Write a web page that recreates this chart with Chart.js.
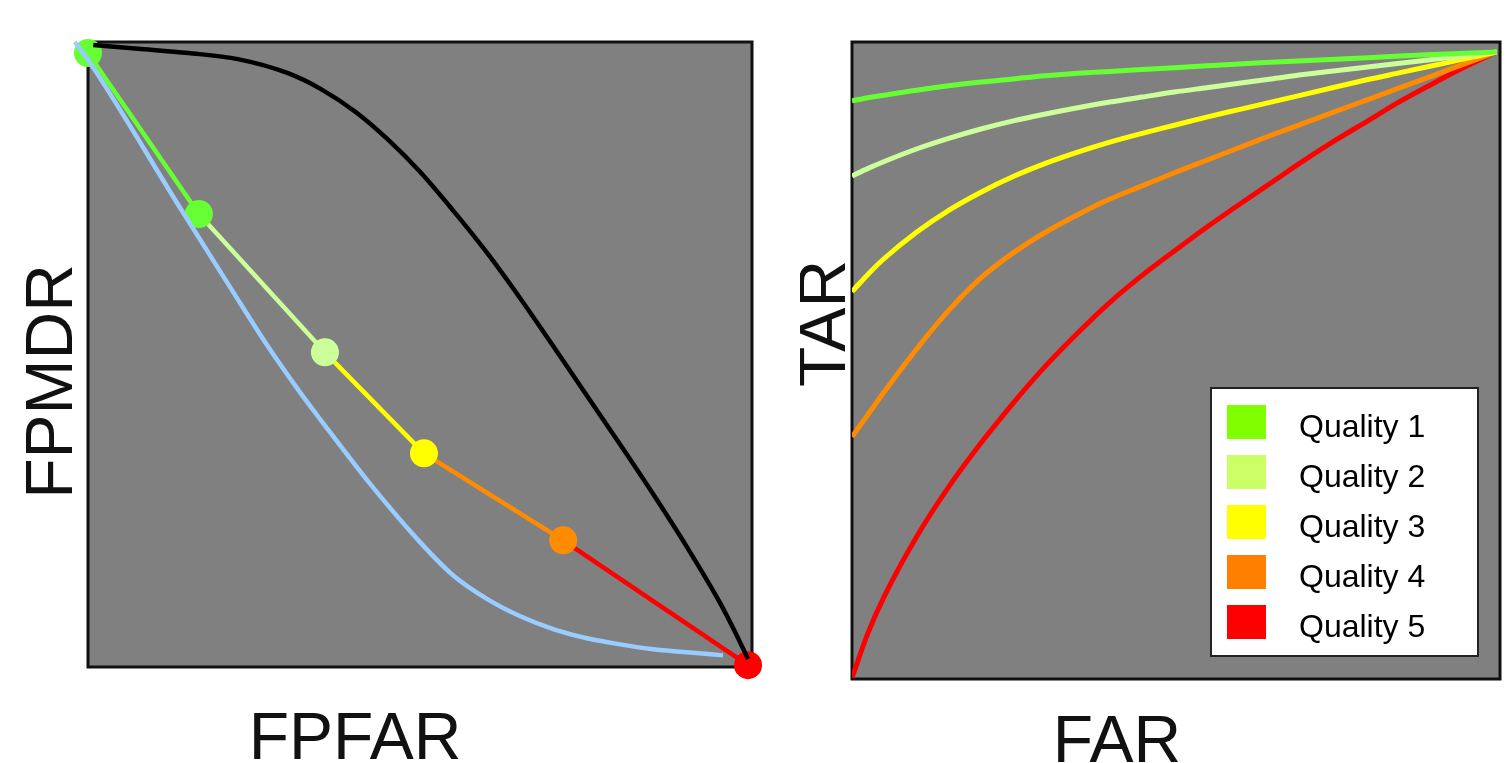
<!DOCTYPE html>
<html>
<head>
<meta charset="utf-8">
<script src="https://cdn.jsdelivr.net/npm/chart.js@4.4.1/dist/chart.umd.min.js"></script>
<style>
  html, body { margin: 0; padding: 0; background: #ffffff; width: 1509px; height: 763px; overflow: hidden; }
  #c1 { position: absolute; left: 0; top: 0; }
  #c2 { position: absolute; left: 800px; top: 0; }
</style>
</head>
<body>
<canvas id="c1" width="800" height="763"></canvas>
<canvas id="c2" width="709" height="763"></canvas>
<script>
// ---- quality levels ----
const qualityLabels = ['Quality 1', 'Quality 2', 'Quality 3', 'Quality 4', 'Quality 5'];
const swatchColors  = ['#80FF00', '#CCFF66', '#FFFF00', '#FF8000', '#FF0000'];
const lineColors    = ['#66FF33', '#CCFF99', '#FFFF00', '#FF8C00', '#FF0000'];

// ---- left panel: FPFAR vs FPMDR ----
// operating points, one per quality step
const opFPFAR = [0, 0.168, 0.359, 0.509, 0.720, 1.0];
const opFPMDR = [1.0, 0.737, 0.511, 0.346, 0.204, 0];
// quality index colouring each operating point
const opQuality = [0, 0, 1, 2, 3, 4];

// black reference curve
const blackFPFAR = [0.008, 0.076, 0.152, 0.227, 0.303, 0.353, 0.405, 0.455, 0.503, 0.553, 0.605, 0.655, 0.705, 0.756, 0.806, 0.856, 0.908, 0.958, 0.980, 1.0];
const blackFPMDR = [1.013, 1.007, 1.000, 0.990, 0.967, 0.941, 0.904, 0.858, 0.806, 0.743, 0.673, 0.599, 0.521, 0.440, 0.361, 0.280, 0.192, 0.101, 0.055, 0.010];

// blue curve
const blueFPFAR = [-0.020, 0, 0.139, 0.215, 0.273, 0.321, 0.353, 0.429, 0.503, 0.553, 0.605, 0.655, 0.705, 0.756, 0.806, 0.856, 0.908, 0.962];
const blueFPMDR = [1.018, 0.989, 0.748, 0.618, 0.520, 0.446, 0.400, 0.294, 0.201, 0.147, 0.108, 0.080, 0.059, 0.044, 0.034, 0.026, 0.021, 0.016];

// ---- right panel: FAR vs TAR per quality ----
const farValues = [0, 0.025, 0.05, 0.1, 0.15, 0.2, 0.25, 0.3, 0.35, 0.4, 0.45, 0.5, 0.55, 0.6, 0.65, 0.7, 0.75, 0.8, 0.85, 0.9, 0.95, 1.0];
const tarQ1 = [0.922, 0.927, 0.931, 0.939, 0.946, 0.952, 0.957, 0.962, 0.966, 0.969, 0.972, 0.975, 0.978, 0.981, 0.9835, 0.986, 0.9885, 0.991, 0.9935, 0.996, 0.998, 1.0];
const tarQ2 = [0.802, 0.814, 0.825, 0.845, 0.862, 0.877, 0.890, 0.901, 0.911, 0.920, 0.928, 0.936, 0.943, 0.950, 0.957, 0.964, 0.970, 0.976, 0.982, 0.988, 0.994, 1.0];
const tarQ3 = [0.617, 0.645, 0.670, 0.712, 0.747, 0.776, 0.801, 0.822, 0.840, 0.856, 0.870, 0.883, 0.896, 0.908, 0.920, 0.932, 0.944, 0.956, 0.967, 0.978, 0.989, 1.0];
const tarQ4 = [0.385, 0.421, 0.457, 0.525, 0.587, 0.639, 0.679, 0.712, 0.740, 0.765, 0.786, 0.807, 0.827, 0.847, 0.867, 0.886, 0.905, 0.924, 0.943, 0.962, 0.981, 1.0];
const tarQ5 = [0.000, 0.072, 0.130, 0.225, 0.305, 0.375, 0.439, 0.498, 0.551, 0.600, 0.643, 0.682, 0.720, 0.756, 0.791, 0.826, 0.859, 0.890, 0.921, 0.949, 0.976, 1.0];
const tarSeries = [tarQ1, tarQ2, tarQ3, tarQ4, tarQ5];

const FONT = "'Liberation Sans', Arial, Helvetica, sans-serif";

function pairs(xs, ys) { return xs.map((x, i) => ({ x: x, y: ys[i] })); }

// grey plot background with a dark frame
const framePlugin = {
  id: 'frame',
  beforeDatasetsDraw(chart) {
    const { ctx, chartArea: a } = chart;
    ctx.save();
    ctx.fillStyle = '#808080';
    ctx.fillRect(a.left, a.top, a.right - a.left, a.bottom - a.top);
    ctx.lineWidth = 3;
    ctx.strokeStyle = '#111111';
    ctx.strokeRect(a.left, a.top, a.right - a.left, a.bottom - a.top);
    ctx.restore();
  }
};

// large axis captions placed around the plot frame
const captionPlugin = {
  id: 'captions',
  afterDraw(chart, args, o) {
    const { ctx, chartArea: a } = chart;
    const cx = (a.left + a.right) / 2, cy = (a.top + a.bottom) / 2;
    ctx.save();
    ctx.fillStyle = '#111111';
    ctx.font = o.size + 'px ' + FONT;
    ctx.textAlign = 'center';
    ctx.textBaseline = 'alphabetic';
    ctx.fillText(o.x.text, cx + o.x.dx, a.bottom + o.x.dy);
    ctx.translate(a.left + o.y.dx, cy + o.y.dy);
    ctx.rotate(-Math.PI / 2);
    ctx.fillText(o.y.text, 0, 0);
    ctx.restore();
  }
};

// boxed legend in the lower right corner of the plot
const boxLegendPlugin = {
  id: 'boxLegend',
  afterDatasetsDraw(chart, args, o) {
    if (!o.show) return;
    const { ctx, chartArea: a } = chart;
    const x0 = a.right - o.marginRight - o.width;
    const y0 = a.bottom - o.marginBottom - o.height;
    ctx.save();
    ctx.fillStyle = '#ffffff';
    ctx.fillRect(x0, y0, o.width, o.height);
    ctx.lineWidth = 2;
    ctx.strokeStyle = '#222222';
    ctx.strokeRect(x0, y0, o.width, o.height);
    ctx.font = o.fontSize + 'px ' + FONT;
    ctx.textAlign = 'left';
    ctx.textBaseline = 'alphabetic';
    chart.data.datasets.forEach((ds, i) => {
      const cy = y0 + o.firstRow + i * o.rowGap;
      ctx.fillStyle = ds.swatch;
      ctx.fillRect(x0 + 16, cy - 17, 39, 34);
      ctx.fillStyle = '#000000';
      ctx.fillText(ds.label, x0 + 88, cy + 15);
    });
    ctx.restore();
  }
};

const common = {
  responsive: false,
  animation: false,
  events: [],
  plugins: { legend: { display: false }, tooltip: { enabled: false } }
};

// ---- left chart ----
new Chart(document.getElementById('c1'), {
  type: 'line',
  data: {
    datasets: [
      {
        label: 'reference',
        data: pairs(blackFPFAR, blackFPMDR),
        borderColor: '#000000', borderWidth: 4.5, pointRadius: 0,
        cubicInterpolationMode: 'monotone', clip: false
      },
      {
        label: 'blue',
        data: pairs(blueFPFAR, blueFPMDR),
        borderColor: '#99CCFF', borderWidth: 4.5, pointRadius: 0,
        cubicInterpolationMode: 'monotone', clip: false
      },
      {
        label: 'operating points',
        data: pairs(opFPFAR, opFPMDR),
        borderWidth: 4.5, tension: 0,
        segment: { borderColor: c => lineColors[c.p0DataIndex] },
        pointRadius: 14, pointBorderWidth: 0,
        pointBackgroundColor: opQuality.map(q => lineColors[q]),
        clip: false
      }
    ]
  },
  options: Object.assign({}, common, {
    layout: { padding: { left: 88, right: 48, top: 42, bottom: 96 } },
    scales: {
      x: { type: 'linear', min: 0, max: 1.006, display: false },
      y: { type: 'linear', min: -0.003, max: 1.018, display: false }
    },
    plugins: Object.assign({}, common.plugins, {
      captions: { size: 66, x: { text: 'FPFAR', dx: -65, dy: 92 }, y: { text: 'FPMDR', dx: -16, dy: 27 } }
    })
  }),
  plugins: [framePlugin, captionPlugin]
});

// ---- right chart ----
new Chart(document.getElementById('c2'), {
  type: 'line',
  data: {
    datasets: tarSeries.map((s, i) => ({
      label: qualityLabels[i],
      swatch: swatchColors[i],
      data: pairs(farValues, s),
      borderColor: lineColors[i], borderWidth: 5, pointRadius: 0,
      cubicInterpolationMode: 'monotone'
    }))
  },
  options: Object.assign({}, common, {
    layout: { padding: { left: 52, right: 9, top: 42, bottom: 84 } },
    scales: {
      x: { type: 'linear', min: 0, max: 1.005, display: false },
      y: { type: 'linear', min: -0.002, max: 1.016, display: false }
    },
    plugins: Object.assign({}, common.plugins, {
      captions: { size: 66, x: { text: 'FAR', dx: -59, dy: 83 }, y: { text: 'TAR', dx: -7, dy: -37 } },
      boxLegend: { show: true, width: 267, height: 268, marginRight: 22, marginBottom: 23, firstRow: 34, rowGap: 50, fontSize: 32 }
    })
  }),
  plugins: [framePlugin, captionPlugin, boxLegendPlugin]
});
</script>
</body>
</html>
